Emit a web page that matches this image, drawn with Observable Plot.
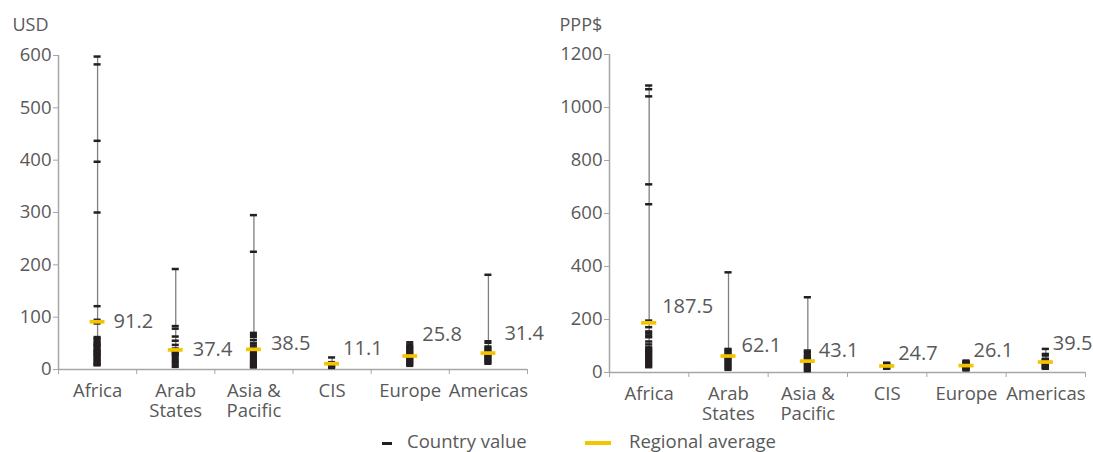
<!DOCTYPE html>
<html><head><meta charset="utf-8">
<script src="https://cdn.jsdelivr.net/npm/d3@7"></script>
<script src="https://cdn.jsdelivr.net/npm/@observablehq/plot@0.6"></script>
<style>
body{margin:0;background:#fff;font-family:"Open Sans",sans-serif;}
#wrap{position:relative;width:1093px;height:452px;overflow:hidden}
#left{position:absolute;left:0;top:0}
#right{position:absolute;left:546px;top:0}
.lg{position:absolute;font-size:18.5px;font-weight:400;color:#595959;line-height:22px;white-space:nowrap}
.sw{position:absolute}
</style></head><body>
<div id="wrap">
<div id="left"></div><div id="right"></div>
<div class="sw" style="left:382px;top:442px;width:10px;height:2.5px;background:#231f20"></div>
<div class="lg" style="left:407px;top:430px">Country value</div>
<div class="sw" style="left:585px;top:441px;width:26px;height:4px;background:#F5C400"></div>
<div class="lg" style="left:629px;top:430px">Regional average</div>
</div>
<script>
// ---------- data ----------
const regions = ["Africa", "Arab States", "Asia & Pacific", "CIS", "Europe", "Americas"];
const regionLabels = ["Africa", "Arab\nStates", "Asia &\nPacific", "CIS", "Europe", "Americas"];

// USD country values per region
const usdAfrica = [598, 583, 437, 397, 300, 121, 95, 88, 62, 60, 58, 55, 52, 50, 48, 46, 45, 43, 40, 38, 36, 35, 33, 31, 30, 28, 26, 25, 22, 20, 18, 16, 14, 12, 10, 9, 8];
const usdArab = [192, 83, 78, 63, 55, 47, 40, 35, 32, 30, 28, 26, 22, 18, 15, 12, 8, 5];
const usdAsia = [295, 225, 70, 66, 62, 56, 50, 46, 42, 38, 35, 32, 30, 27, 24, 22, 20, 18, 16, 14, 12, 10, 8, 6, 5, 4];
const usdCIS = [23, 14, 12, 11, 10, 9, 8, 7, 6, 5, 4, 3];
const usdEurope = [52, 48, 45, 43, 41, 39, 37, 35, 33, 31, 29, 27, 25, 23, 21, 19, 17, 15, 13, 11, 9, 7];
const usdAmericas = [181, 54, 51, 44, 42, 40, 37, 35, 33, 31, 29, 27, 25, 23, 21, 19, 17, 15, 13, 11];
const usdAverages = [91.2, 37.4, 38.5, 11.1, 25.8, 31.4];
const usdTicks = [0, 100, 200, 300, 400, 500, 600];

// PPP$ country values per region
const pppAfrica = [1083, 1069, 1042, 710, 635, 196, 171, 155, 148, 140, 133, 117, 106, 95, 90, 85, 80, 75, 70, 65, 60, 55, 50, 45, 40, 35, 30, 25, 20];
const pppArab = [378, 89, 85, 80, 75, 70, 65, 60, 55, 50, 45, 40, 35, 30, 25, 20, 15, 10];
const pppAsia = [284, 83, 78, 72, 65, 60, 55, 50, 45, 40, 35, 30, 25, 20, 15, 10, 5];
const pppCIS = [37, 35, 32, 30, 28, 25, 22, 20, 18, 16, 14];
const pppEurope = [45, 42, 40, 38, 35, 32, 30, 28, 25, 22, 20, 18, 15, 12, 10, 8];
const pppAmericas = [89, 70, 64, 52, 50, 48, 45, 42, 40, 38, 35, 32, 30, 28, 25, 22, 20, 18, 16, 14];
const pppAverages = [187.5, 62.1, 43.1, 24.7, 26.1, 39.5];
const pppTicks = [0, 200, 400, 600, 800, 1000, 1200];

const usdValues = [usdAfrica, usdArab, usdAsia, usdCIS, usdEurope, usdAmericas];
const pppValues = [pppAfrica, pppArab, pppAsia, pppCIS, pppEurope, pppAmericas];

// ---------- drawing ----------
const TEXT = "#595959", AXIS = "#a6a6a6", BLACK = "#231f20", YELLOW = "#F5C400";
const FONT = "'Open Sans', sans-serif";

function panel({values, averages, ticks, unit, width, marginLeft, marginRight, marginTop, marginBottom, unitDx, unitDy, labelDx, labelDy}) {
  const points = values.flatMap((vs, i) => vs.map(v => ({i, v})));
  const ranges = values.map((vs, i) => ({i, lo: d3.min(vs), hi: d3.max(vs)}));
  const avgs = averages.map((a, i) => ({i, a}));
  const cats = regionLabels.map((t, i) => ({i, t}));
  const marks = [
    Plot.ruleX([0], {stroke: AXIS, strokeWidth: 1.5}),
    Plot.ruleY([0], {stroke: AXIS, strokeWidth: 1.5}),
    Plot.axisY({ticks, tickSize: 5, tickPadding: 2, tickFormat: d3.format("d"), stroke: AXIS, fill: TEXT, fontSize: 18.5, label: null}),
    Plot.axisX({ticks: d3.range(7), tickSize: 5, tickFormat: () => "", stroke: AXIS, label: null}),
    Plot.text(cats, {x: d => d.i + 0.5, y: 0, text: "t", dy: 13, lineAnchor: "top", lineHeight: 1.1, fontSize: 18.5, fill: TEXT}),
    Plot.text([unit], {frameAnchor: "top-left", dx: unitDx, dy: unitDy, textAnchor: "start", lineAnchor: "middle", fontSize: 18, fill: TEXT}),
    Plot.ruleX(ranges, {x: d => d.i + 0.5, y1: "lo", y2: "hi", stroke: "#7f7f7f", strokeWidth: 1.3}),
    Plot.ruleY(points, {y: "v", x1: d => d.i + 0.455, x2: d => d.i + 0.545, stroke: BLACK, strokeWidth: 2.5}),
    Plot.ruleY(avgs, {y: "a", x1: d => d.i + 0.405, x2: d => d.i + 0.595, stroke: YELLOW, strokeWidth: 3.7}),
    ...avgs.map((d, k) => Plot.text([d], {x: d => d.i + 0.5, y: "a", text: d => d.a.toFixed(1), dx: labelDx[k], dy: labelDy[k], textAnchor: "start", lineAnchor: "middle", fontSize: 20, fill: TEXT}))
  ];
  return Plot.plot({
    width, height: 425, marginLeft, marginRight, marginTop, marginBottom,
    style: {fontFamily: FONT, fontWeight: 400, background: "#fff", overflow: "visible"},
    x: {domain: [0, 6], axis: null},
    y: {domain: [ticks[0], ticks[ticks.length - 1]], axis: null},
    marks
  });
}

document.getElementById("left").append(panel({
  values: usdValues, averages: usdAverages, ticks: usdTicks, unit: "USD",
  width: 546, marginLeft: 58, marginRight: 19, marginTop: 55, marginBottom: 56,
  unitDx: -46, unitDy: -30,
  labelDx: [16, 17, 17, 11, 12, 16], labelDy: [0, 0, -6, -15, -21, -19]
}));
document.getElementById("right").append(panel({
  values: pppValues, averages: pppAverages, ticks: pppTicks, unit: "PPP$",
  width: 547, marginLeft: 63, marginRight: 8, marginTop: 54, marginBottom: 53,
  unitDx: -50, unitDy: -29,
  labelDx: [13, 13, 11, 11, 7, 7], labelDy: [-16, -10, -10, -12, -15, -18]
}));
</script>
</body></html>
